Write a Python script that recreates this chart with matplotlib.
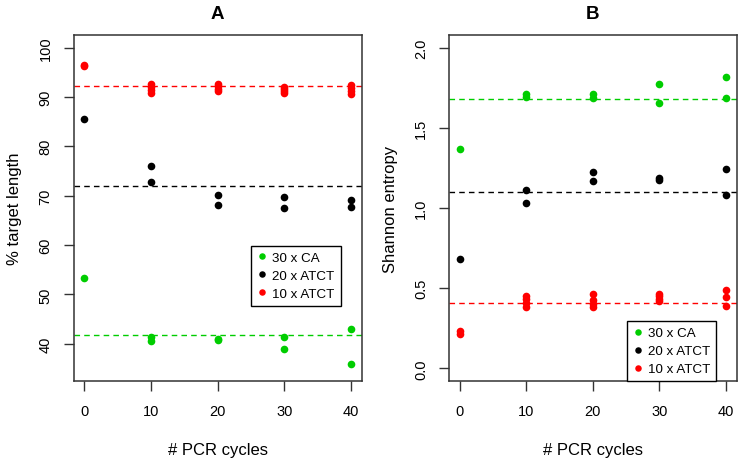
import matplotlib
matplotlib.use("Agg")
import matplotlib.pyplot as plt

plt.rcParams['font.family'] = ['Liberation Sans', 'DejaVu Sans']

GREEN = '#00CD00'
RED = '#FF0000'
BLACK = '#000000'

series_names = ['30 x CA', '20 x ATCT', '10 x ATCT']
cycles_ticks = [0, 10, 20, 30, 40]

# Panel A: % target length
a_ca_x = [0, 10, 10, 20, 20, 30, 30, 40, 40]
a_ca_y = [53.4, 41.3, 40.6, 41.0, 40.7, 41.3, 38.9, 42.9, 35.9]
a_atct20_x = [0, 10, 10, 20, 20, 30, 30, 40, 40]
a_atct20_y = [85.5, 76.0, 72.8, 70.2, 68.2, 69.8, 67.4, 69.1, 67.8]
a_atct10_x = [0, 0, 10, 10, 10, 10, 20, 20, 20, 20, 30, 30, 30, 30, 40, 40, 40, 40]
a_atct10_y = [96.5, 96.2, 92.7, 92.1, 91.5, 90.8, 92.7, 92.2, 91.7, 91.2,
              92.0, 91.6, 91.2, 90.7, 92.5, 91.8, 91.1, 90.5]
a_means = [41.7, 71.9, 92.15]

# Panel B: Shannon entropy
b_ca_x = [0, 10, 10, 20, 20, 30, 30, 40, 40]
b_ca_y = [1.366, 1.708, 1.692, 1.712, 1.688, 1.773, 1.652, 1.816, 1.683]
b_atct20_x = [0, 10, 10, 20, 20, 30, 30, 40, 40]
b_atct20_y = [0.681, 1.110, 1.033, 1.225, 1.166, 1.187, 1.172, 1.246, 1.079]
b_atct10_x = [0, 0, 10, 10, 10, 10, 20, 20, 20, 20, 30, 30, 30, 30, 40, 40, 40]
b_atct10_y = [0.235, 0.215, 0.453, 0.430, 0.408, 0.386, 0.462, 0.425, 0.400, 0.382,
              0.467, 0.450, 0.432, 0.419, 0.489, 0.444, 0.391]
b_means = [1.679, 1.100, 0.406]

TICK_FS = 10.5
LABEL_FS = 12
LEG_FS = 9.6

fig = plt.figure(figsize=(7.38, 4.60), dpi=100)
W, H = 738, 460
axA = fig.add_axes([73.5 / W, 1 - 382.3 / H, (361.7 - 73.5) / W, (382.3 - 35.7) / H])
axB = fig.add_axes([449.0 / W, 1 - 382.3 / H, (736.7 - 449.0) / W, (382.3 - 35.7) / H])


def style(ax, ylim, yticks, yticklabels, ylabel, title):
    ax.set_xlim(-1.6, 41.6)
    ax.set_ylim(*ylim)
    ax.set_xticks(cycles_ticks)
    ax.set_xticklabels([str(c) for c in cycles_ticks], fontsize=TICK_FS)
    ax.set_yticks(yticks)
    ax.set_yticklabels(yticklabels, fontsize=TICK_FS, rotation=90, va='center')
    ax.tick_params(axis='both', direction='out', length=7, width=1, color='#333333')
    ax.tick_params(axis='x', pad=9.5)
    ax.tick_params(axis='y', pad=8)
    for s in ax.spines.values():
        s.set_linewidth(1.1)
        s.set_color('#333333')
    ax.set_xlabel('# PCR cycles', fontsize=LABEL_FS, labelpad=17)
    ax.set_ylabel(ylabel, fontsize=LABEL_FS, labelpad=12)
    ax.set_title(title, fontsize=13.5, fontweight='bold', pad=12)


def draw(ax, series, means):
    colors = [GREEN, BLACK, RED]
    for m, c in zip(means, colors):
        ax.axhline(m, color=c, linestyle=(0, (4, 3)), linewidth=1, zorder=1)
    for (x, y), c, name in zip(series, colors, series_names):
        ax.plot(x, y, 'o', color=c, markersize=5.5, markeredgewidth=0, label=name, zorder=3)


draw(axA, [(a_ca_x, a_ca_y), (a_atct20_x, a_atct20_y), (a_atct10_x, a_atct10_y)], a_means)
draw(axB, [(b_ca_x, b_ca_y), (b_atct20_x, b_atct20_y), (b_atct10_x, b_atct10_y)], b_means)

style(axA, (32.4, 102.6), [40, 50, 60, 70, 80, 90, 100],
      ['40', '50', '60', '70', '80', '90', '100'], '% target length', 'A')
style(axB, (-0.08, 2.08), [0.0, 0.5, 1.0, 1.5, 2.0],
      ['0.0', '0.5', '1.0', '1.5', '2.0'], 'Shannon entropy', 'B')

leg_kw = dict(fontsize=LEG_FS, frameon=True, fancybox=False, framealpha=1, edgecolor='black',
              handlelength=0.8, handletextpad=0.35, borderpad=0.45, labelspacing=0.42,
              borderaxespad=0, markerscale=0.85)
legA = axA.legend(loc='upper left', bbox_to_anchor=(0.616, 0.391), **leg_kw)
legB = axB.legend(loc='lower left', bbox_to_anchor=(0.6177, 0.0), **leg_kw)
for leg in (legA, legB):
    leg.get_frame().set_linewidth(1.0)

fig.savefig('out.png', dpi=100)
